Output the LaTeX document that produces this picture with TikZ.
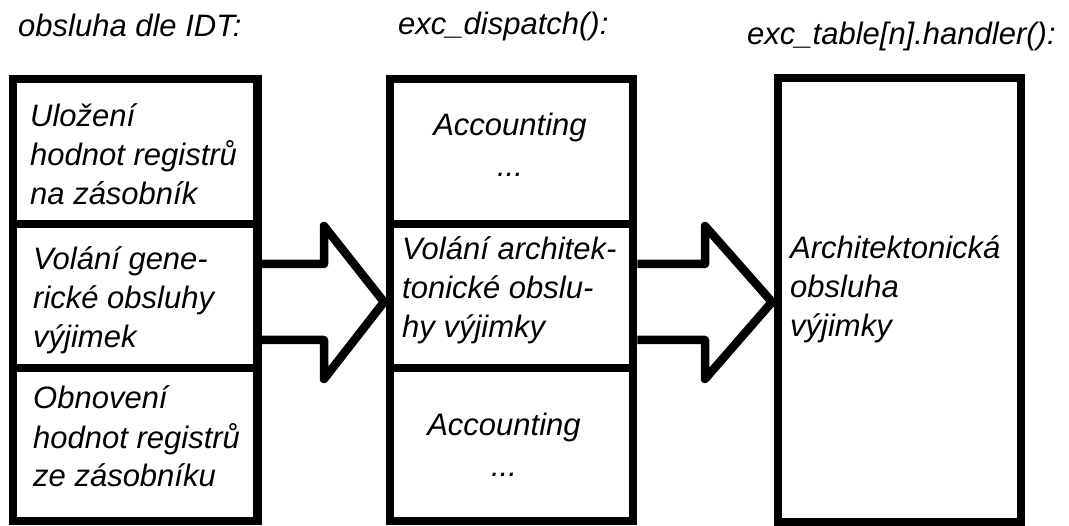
\documentclass[tikz,border=0pt]{standalone}
\usepackage{fontspec}
\setmainfont{Liberation Sans}
\begin{document}
\begin{tikzpicture}[x=1pt,y=-1pt,
  sect/.style={draw, line width=8.5pt, inner sep=0pt, minimum width=#1},
  lbl/.style={font=\fontsize{31}{39}\selectfont\itshape, inner sep=0pt, align=left, anchor=base west},
  clbl/.style={font=\fontsize{31}{41}\selectfont\itshape, inner sep=0pt, align=center, anchor=base},
  blockarrow/.style={draw, line width=8.5pt, line join=round},
]
\useasboundingbox (0,0) rectangle (1069,526);
% left column
\node[sect=244.5pt, minimum height=145pt] (L1) at (135.25,151.5) {};
\node[sect=244.5pt, minimum height=144pt] (L2) at (135.25,296) {};
\node[sect=244.5pt, minimum height=153pt] (L3) at (135.25,444.5) {};
% middle column
\node[sect=243pt, minimum height=145pt] (M1) at (511.5,151.5) {};
\node[sect=243pt, minimum height=144pt] (M2) at (511.5,296) {};
\node[sect=243pt, minimum height=153pt] (M3) at (511.5,444.5) {};
% right column
\node[sect=243pt, minimum height=444pt] (R) at (899.5,300) {};
% titles
\node[lbl] (h1) at (18,37) {obsluha dle IDT:};
\node[lbl] (h2) at (398,35) {exc\_dispatch():};
\node[lbl] (h3) at (747,45) {exc\_table[n].handler():};
% texts (anchor = baseline of the last line)
\node[lbl] (t1) at (30,205) {Uložení\\hodnot registrů\\na zásobník};
\node[lbl] (t2) at (33,348) {Volání gene-\\rické obsluhy\\výjimek};
\node[lbl] (t3) at (33,487) {Obnovení\\hodnot registrů\\ze zásobníku};
\node[clbl] (t4) at (510,177) {Accounting\\...};
\node[lbl] (t5) at (402,338) {Volání architek-\\tonické obslu-\\hy výjimky};
\node[clbl] (t6) at (504,477) {Accounting\\...};
\node[lbl] (t7) at (790,337) {Architektonická\\obsluha\\výjimky};
% block arrows
\draw[blockarrow] (L2.east |- 0,264) -- (324,264) -- (324,226) -- (384,302)
  -- (324,379) -- (324,340) -- (L2.east |- 0,340);
\draw[blockarrow] (M2.east |- 0,264) -- (705,264) -- (705,226) -- (772,302)
  -- (705,379) -- (705,340) -- (M2.east |- 0,340);
\end{tikzpicture}
\end{document}
